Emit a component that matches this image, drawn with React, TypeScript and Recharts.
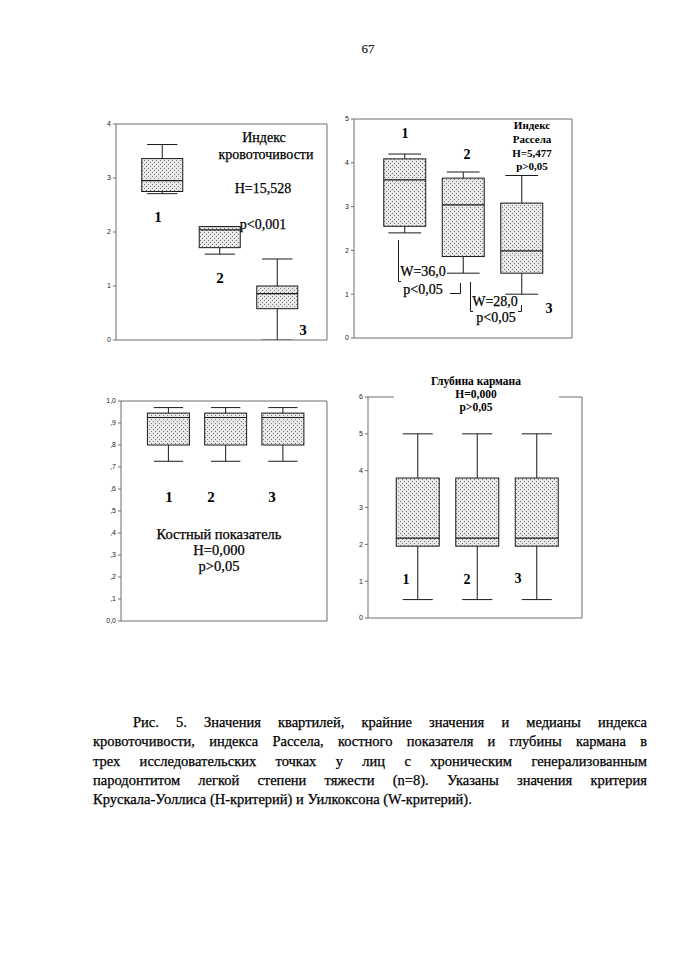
import React from "react";
import { ComposedChart, Bar, XAxis, YAxis } from "recharts";

// ---------- data ----------
const GROUPS = ["1", "2", "3"];

// Индекс кровоточивости
const BLEED_MIN = [2.71, 1.59, 0.0];
const BLEED_Q1 = [2.75, 1.71, 0.58];
const BLEED_MED = [2.95, 2.04, 0.86];
const BLEED_Q3 = [3.36, 2.1, 1.0];
const BLEED_MAX = [3.62, 2.1, 1.5];
const BLEED_TICKS = [0, 1, 2, 3, 4];
const BLEED_TICK_LABELS = ["0", "1", "2", "3", "4"];

// Индекс Рассела
const RUSSELL_MIN = [2.4, 1.48, 1.0];
const RUSSELL_Q1 = [2.55, 1.86, 1.48];
const RUSSELL_MED = [3.61, 3.04, 1.99];
const RUSSELL_Q3 = [4.09, 3.65, 3.08];
const RUSSELL_MAX = [4.2, 3.79, 3.71];
const RUSSELL_TICKS = [0, 1, 2, 3, 4, 5];
const RUSSELL_TICK_LABELS = ["0", "1", "2", "3", "4", "5"];

// Костный показатель
const BONE_MIN = [0.726, 0.726, 0.726];
const BONE_Q1 = [0.8, 0.8, 0.8];
const BONE_MED = [0.925, 0.925, 0.925];
const BONE_Q3 = [0.945, 0.945, 0.945];
const BONE_MAX = [0.97, 0.97, 0.97];
const BONE_TICKS = [0, 0.1, 0.2, 0.3, 0.4, 0.5, 0.6, 0.7, 0.8, 0.9, 1.0];
const BONE_TICK_LABELS = ["0,0", ",1", ",2", ",3", ",4", ",5", ",6", ",7", ",8", ",9", "1,0"];

// Глубина кармана
const POCKET_MIN = [0.5, 0.5, 0.5];
const POCKET_Q1 = [1.95, 1.95, 1.95];
const POCKET_MED = [2.17, 2.17, 2.17];
const POCKET_Q3 = [3.8, 3.8, 3.8];
const POCKET_MAX = [5.0, 5.0, 5.0];
const POCKET_TICKS = [0, 1, 2, 3, 4, 5, 6];
const POCKET_TICK_LABELS = ["0", "1", "2", "3", "4", "5", "6"];

const CAPTION_LINES = [
  "Рис. 5. Значения квартилей, крайние значения и медианы индекса",
  "кровоточивости, индекса Рассела, костного показателя и глубины кармана в",
  "трех исследовательских точках у лиц с хроническим генерализованным",
  "пародонтитом легкой степени тяжести (n=8). Указаны значения критерия",
  "Крускала-Уоллиса (H-критерий) и Уилкоксона (W-критерий).",
];

// ---------- helpers ----------
const SERIF = "'Liberation Serif', 'DejaVu Serif', serif";
const SANS = "'Liberation Sans', Arial, sans-serif";
const FRAME = "#6e6e6e";
const INK = "#1a1a1a";

function buildRows(mn: number[], q1: number[], med: number[], q3: number[], mx: number[]) {
  return GROUPS.map((g, i) => ({
    group: g,
    min: mn[i],
    q1: q1[i],
    med: med[i],
    q3: q3[i],
    max: mx[i],
    range: [mn[i], mx[i]],
  }));
}

function makeShape(id: string, capRatio: number) {
  return (props: any) => {
    const { x, width, payload } = props;
    const y0 = Math.min(props.y, props.y + props.height);
    const h = Math.abs(props.height);
    const lo = payload.min;
    const hi = payload.max;
    const k = hi > lo ? h / (hi - lo) : 0;
    const py = (v: number) => y0 + (hi - v) * k;
    const cx = x + width / 2;
    const capW = width * capRatio;
    const pid = `${id}-dots`;
    return (
      <g>
        <defs>
          <pattern id={pid} width={4} height={4} patternUnits="userSpaceOnUse">
            <rect x={0} y={0} width={4} height={4} fill="#e8e8e8" />
            <rect x={0} y={0} width={1} height={1} fill="#7a7a7a" />
            <rect x={2} y={2} width={1} height={1} fill="#7a7a7a" />
          </pattern>
        </defs>
        <line x1={cx} x2={cx} y1={py(hi)} y2={py(payload.q3)} stroke={INK} strokeWidth={1} />
        <line x1={cx} x2={cx} y1={py(payload.q1)} y2={py(lo)} stroke={INK} strokeWidth={1} />
        <line x1={cx - capW / 2} x2={cx + capW / 2} y1={py(hi)} y2={py(hi)} stroke={INK} strokeWidth={1} />
        <line x1={cx - capW / 2} x2={cx + capW / 2} y1={py(lo)} y2={py(lo)} stroke={INK} strokeWidth={1} />
        <rect
          x={x}
          y={py(payload.q3)}
          width={width}
          height={Math.max(0, py(payload.q1) - py(payload.q3))}
          fill={`url(#${pid})`}
          stroke={INK}
          strokeWidth={1}
        />
        <line x1={x} x2={x + width} y1={py(payload.med)} y2={py(payload.med)} stroke={INK} strokeWidth={1.2} />
      </g>
    );
  };
}

type PanelProps = {
  id: string;
  left: number;
  top: number;
  plotW: number;
  plotH: number;
  yMax: number;
  ticks: number[];
  tickLabels: string[];
  padL: number;
  padR: number;
  barSize: number;
  capRatio: number;
  rows: any[];
};

function BoxPanel(p: PanelProps) {
  const W = p.plotW + 40;
  const H = p.plotH + 20;
  return (
    <div style={{ position: "absolute", left: p.left - 30, top: p.top - 10, width: W, height: H }}>
      <ComposedChart width={W} height={H} data={p.rows} margin={{ top: 9, right: 9, bottom: 9, left: 0 }}>
        <XAxis
          dataKey="group"
          type="category"
          height={1}
          tick={false}
          tickLine={false}
          axisLine={{ stroke: FRAME }}
          padding={{ left: p.padL, right: p.padR }}
        />
        <XAxis
          xAxisId="top"
          orientation="top"
          dataKey="group"
          type="category"
          height={1}
          tick={false}
          tickLine={false}
          axisLine={{ stroke: FRAME }}
        />
        <YAxis
          type="number"
          domain={[0, p.yMax]}
          ticks={p.ticks}
          interval={0}
          allowDataOverflow
          width={30}
          tickSize={3}
          tickMargin={2}
          tickFormatter={(_v: any, i: number) => p.tickLabels[i]}
          tick={{ fontSize: 7, fill: "#222", fontFamily: SANS }}
          axisLine={{ stroke: FRAME }}
          tickLine={{ stroke: FRAME }}
        />
        <YAxis
          yAxisId="right"
          orientation="right"
          type="number"
          domain={[0, p.yMax]}
          width={1}
          tick={false}
          tickLine={false}
          axisLine={{ stroke: FRAME }}
        />
        <Bar dataKey="range" barSize={p.barSize} isAnimationActive={false} shape={makeShape(p.id, p.capRatio)} />
      </ComposedChart>
    </div>
  );
}

function T(props: { x: number; y: number; size: number; bold?: boolean; color?: string; children: React.ReactNode }) {
  return (
    <div
      style={{
        position: "absolute",
        left: props.x,
        top: props.y,
        transform: "translate(-50%, -50%)",
        fontSize: props.size,
        fontWeight: props.bold ? 700 : 400,
        fontFamily: SERIF,
        whiteSpace: "nowrap",
        lineHeight: 1,
        color: props.color ?? "#000",
        WebkitTextStroke: props.bold ? undefined : "0.25px #000",
      } as React.CSSProperties}
    >
      {props.children}
    </div>
  );
}

export default function App() {
  const bleedRows = buildRows(BLEED_MIN, BLEED_Q1, BLEED_MED, BLEED_Q3, BLEED_MAX);
  const russellRows = buildRows(RUSSELL_MIN, RUSSELL_Q1, RUSSELL_MED, RUSSELL_Q3, RUSSELL_MAX);
  const boneRows = buildRows(BONE_MIN, BONE_Q1, BONE_MED, BONE_Q3, BONE_MAX);
  const pocketRows = buildRows(POCKET_MIN, POCKET_Q1, POCKET_MED, POCKET_Q3, POCKET_MAX);

  return (
    <div style={{ position: "absolute", left: 0, top: 0, width: 678, height: 960, background: "#fff", overflow: "hidden" }}>
      <T x={368} y={48} size={13} color="#444">67</T>

      <BoxPanel
        id="bleed"
        left={116}
        top={124}
        plotW={211}
        plotH={216}
        yMax={4}
        ticks={BLEED_TICKS}
        tickLabels={BLEED_TICK_LABELS}
        padL={17.75}
        padR={20.75}
        barSize={41}
        capRatio={0.74}
        rows={bleedRows}
      />
      <BoxPanel
        id="russell"
        left={354}
        top={119}
        plotW={218}
        plotH={219}
        yMax={5}
        ticks={RUSSELL_TICKS}
        tickLabels={RUSSELL_TICK_LABELS}
        padL={21.75}
        padR={20.75}
        barSize={42}
        capRatio={0.78}
        rows={russellRows}
      />
      <BoxPanel
        id="bone"
        left={121}
        top={401}
        plotW={206}
        plotH={220}
        yMax={1}
        ticks={BONE_TICKS}
        tickLabels={BONE_TICK_LABELS}
        padL={18.4}
        padR={15.85}
        barSize={42}
        capRatio={0.7}
        rows={boneRows}
      />
      <BoxPanel
        id="pocket"
        left={368}
        top={397}
        plotW={214}
        plotH={221}
        yMax={6}
        ticks={POCKET_TICKS}
        tickLabels={POCKET_TICK_LABELS}
        padL={20.25}
        padR={15.25}
        barSize={43}
        capRatio={0.7}
        rows={pocketRows}
      />

      {/* Panel 1 texts */}
      <T x={264} y={138} size={14}>Индекс</T>
      <T x={266} y={155} size={14}>кровоточивости</T>
      <T x={263} y={189} size={14}>H=15,528</T>
      <T x={263} y={225} size={14}>p&lt;0,001</T>
      <T x={158} y={217} size={15} bold>1</T>
      <T x={220} y={278} size={15} bold>2</T>
      <T x={303} y={330} size={15} bold>3</T>

      {/* Panel 2 texts */}
      <T x={532} y={125} size={11} bold>Индекс</T>
      <T x={532} y={139} size={11} bold>Рассела</T>
      <T x={532} y={153} size={11} bold>H=5,477</T>
      <T x={532} y={166} size={11} bold>p&gt;0,05</T>
      <T x={405} y={134} size={14} bold>1</T>
      <T x={467} y={155} size={14} bold>2</T>
      <T x={549} y={309} size={14} bold>3</T>
      <T x={423} y={272} size={14}>W=36,0</T>
      <T x={423} y={290} size={14}>p&lt;0,05</T>
      <T x={495} y={302} size={14}>W=28,0</T>
      <T x={496} y={318} size={14}>p&lt;0,05</T>
      <svg width={678} height={960} style={{ position: "absolute", left: 0, top: 0, pointerEvents: "none" }}>
        <polyline points="398.5,240 398.5,281.5 401,281.5" fill="none" stroke={INK} strokeWidth={1} />
        <polyline points="450,293.5 460.5,293.5 460.5,283" fill="none" stroke={INK} strokeWidth={1} />
        <polyline points="470.5,282 470.5,311.5 473,311.5" fill="none" stroke={INK} strokeWidth={1} />
        <polyline points="518,311.5 521.5,311.5 521.5,305" fill="none" stroke={INK} strokeWidth={1} />
      </svg>

      {/* Panel 3 texts */}
      <T x={169} y={497} size={15} bold>1</T>
      <T x={211} y={497} size={15} bold>2</T>
      <T x={272} y={497} size={15} bold>3</T>
      <T x={219} y={534} size={14.5}>Костный показатель</T>
      <T x={219} y={550} size={14.5}>H=0,000</T>
      <T x={219} y={566} size={14.5}>p&gt;0,05</T>

      {/* Panel 4 texts (white block opens the gap in the top border) */}
      <div
        style={{
          position: "absolute",
          left: 394,
          top: 374,
          width: 165,
          height: 42,
          background: "#fff",
        }}
      />
      <T x={476} y={382} size={11.5} bold>Глубина кармана</T>
      <T x={476} y={395} size={11.5} bold>H=0,000</T>
      <T x={476} y={408} size={11.5} bold>p&gt;0,05</T>
      <T x={406} y={580} size={14} bold>1</T>
      <T x={467} y={580} size={14} bold>2</T>
      <T x={518} y={579} size={14} bold>3</T>

      {/* Caption */}
      {CAPTION_LINES.map((line, i) => {
        const last = i === CAPTION_LINES.length - 1;
        const left = i === 0 ? 133 : 93;
        return (
          <div
            key={i}
            style={{
              position: "absolute",
              left,
              top: 713 + i * 19.3,
              width: 647 - left,
              height: 19,
              lineHeight: "19px",
              fontSize: 14.5,
              fontFamily: SERIF,
              color: "#000",
              WebkitTextStroke: "0.25px #000",
              textAlign: last ? "left" : "justify",
              textAlignLast: last ? "left" : "justify",
              whiteSpace: "nowrap",
            } as React.CSSProperties}
          >
            {line}
          </div>
        );
      })}
    </div>
  );
}
